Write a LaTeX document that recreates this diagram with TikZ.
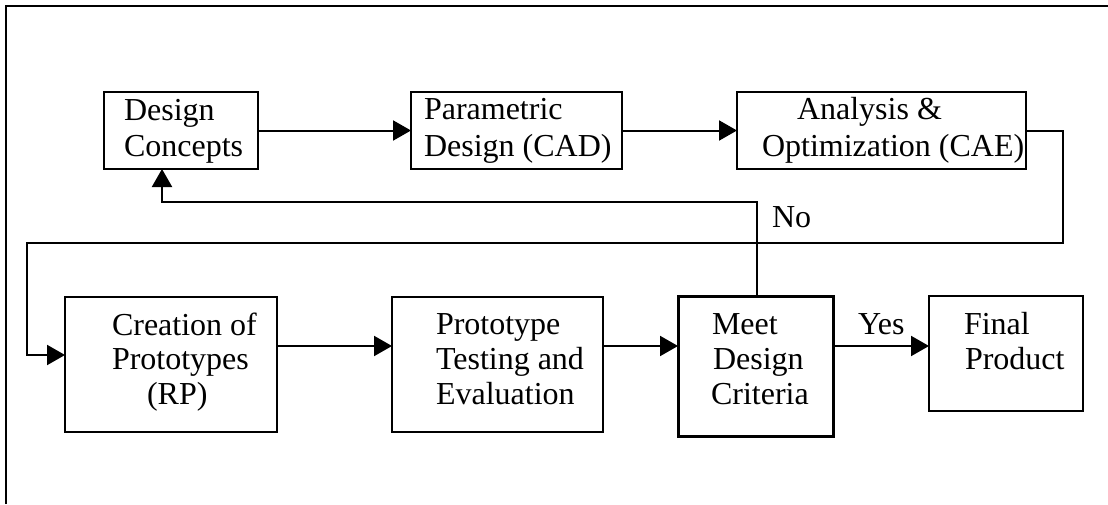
\documentclass[tikz,border=0pt]{standalone}
\usepackage{fontspec}
\setmainfont{Liberation Serif}
\usetikzlibrary{arrows.meta}
\tikzset{
  box/.style={draw, line width=2pt, inner sep=0pt, outer sep=0pt},
  thickbox/.style={box, line width=3pt},
  conn/.style={draw, line width=2pt},
  arr/.style={conn, -{Triangle[length=18pt,width=20pt]}},
  txt/.style={anchor=base west, inner sep=0pt, outer sep=0pt, font=\fontsize{32}{36}\selectfont},
}
\begin{document}
\begin{tikzpicture}[x=1pt,y=-1pt]
\useasboundingbox (0,0) rectangle (1108,504);
% frame (only top and left edges visible)
\coordinate (fbl) at (6,504);
\coordinate (ftl) at (6,6);
\coordinate (ftr) at (1108,6);
\draw[line width=2.4pt] (fbl) -- (ftl) -- (ftr);

% boxes
\node[box, minimum width=154pt, minimum height=77pt] (dc) at (181,130.5) {};
\node[box, minimum width=211pt, minimum height=77pt] (pd) at (516.5,130.5) {};
\node[box, minimum width=289pt, minimum height=77pt] (ao) at (881.5,130.5) {};
\node[box, minimum width=212pt, minimum height=135pt] (cp) at (171,364.5) {};
\node[box, minimum width=211pt, minimum height=135pt] (pt) at (497.5,364.5) {};
\node[thickbox, minimum width=155pt, minimum height=140pt] (mc) at (755.5,366) {};
\node[box, minimum width=154pt, minimum height=115pt] (fp) at (1006,353.5) {};

% texts
\node[txt] (t1) at (124,120) {Design};
\node[txt] (t2) at (124,156) {Concepts};
\node[txt] (t3) at (424,119) {Parametric};
\node[txt] (t4) at (424,156) {Design (CAD)};
\node[txt] (t5) at (797,119) {Analysis \&};
\node[txt] (t6) at (762,156) {Optimization (CAE)};
\node[txt] (t7) at (112,335) {Creation of};
\node[txt] (t8) at (112,369) {Prototypes};
\node[txt] (t9) at (147,404) {(RP)};
\node[txt] (t10) at (436,334) {Prototype};
\node[txt] (t11) at (436,369) {Testing and};
\node[txt] (t12) at (436,404) {Evaluation};
\node[txt] (t13) at (712,334) {Meet};
\node[txt] (t14) at (713,369) {Design};
\node[txt] (t15) at (711,404) {Criteria};
\node[txt] (t16) at (964,334) {Final};
\node[txt] (t17) at (965,369) {Product};
\node[txt] (yes) at (858,334) {Yes};
\node[txt] (no) at (772,227) {No};

% connectors
\draw[arr] (dc.east) -- (pd.west);
\draw[arr] (pd.east) -- (ao.west);

\coordinate (r1) at (1063,243);
\coordinate (l1) at (27,243);
\coordinate (l2) at (27,355);
\draw[arr] (ao.east) -| (r1) -- (l1) -- (l2) -- (cp.west |- l2);

\coordinate (ylev) at (0,346);
\draw[arr] (cp.east |- ylev) -- (pt.west |- ylev);
\draw[arr] (pt.east |- ylev) -- (mc.west |- ylev);
\draw[arr] (mc.east |- ylev) -- (fp.west |- ylev);

\coordinate (n1) at (757,202);
\coordinate (n2) at (162,202);
\draw[arr] (mc.north -| n1) -- (n1) -- (n2) -- (dc.south -| n2);
\end{tikzpicture}
\end{document}
